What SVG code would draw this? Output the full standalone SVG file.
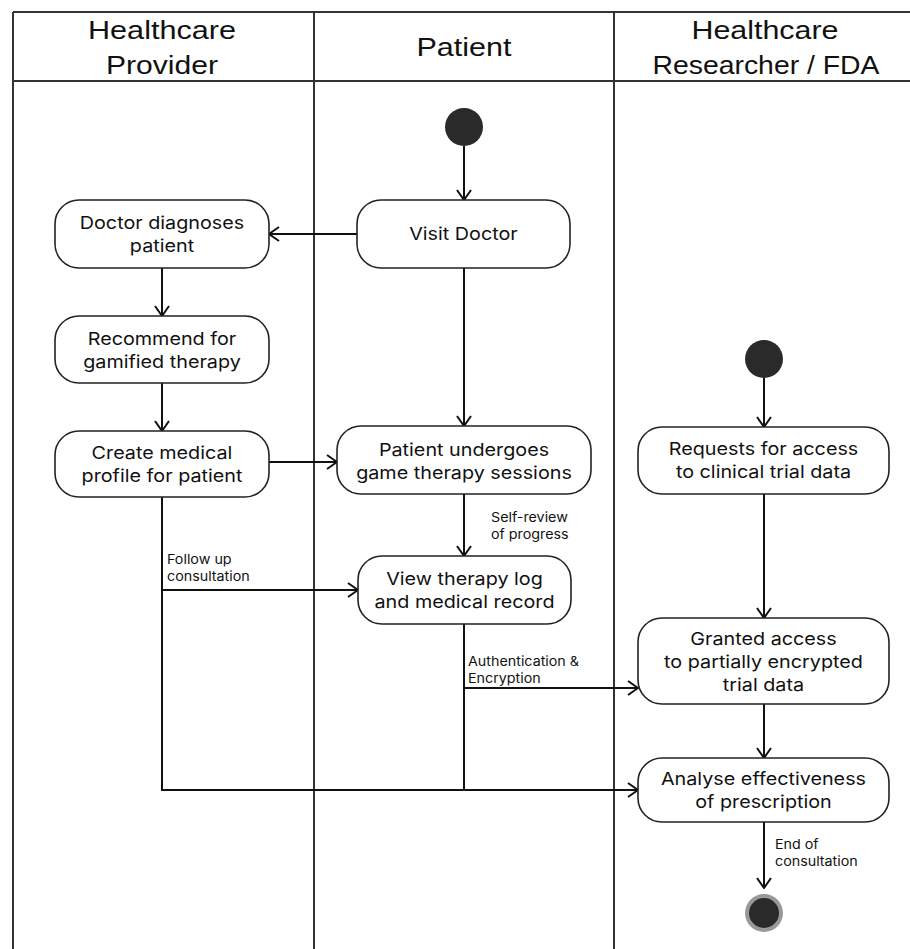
<svg xmlns="http://www.w3.org/2000/svg" width="910" height="949" viewBox="0 0 910 949">
<defs>
<style>
.lane{stroke:#333;stroke-width:2;fill:none}
.hdr{font-family:"Liberation Sans",Arial,sans-serif;font-size:26px;fill:#111;text-anchor:middle}
.node rect{fill:#fff;stroke:#222;stroke-width:1.6}
.node text{font-family:Inter,"Noto Sans",sans-serif;font-size:17.5px;fill:#111;text-anchor:middle;transform-box:fill-box;transform-origin:center;transform:scaleX(1.13)}
.edge{stroke:#111;stroke-width:2;fill:none}
.lbl{font-family:Inter,"Noto Sans",sans-serif;font-size:13px;fill:#111;transform-box:fill-box;transform-origin:left center;transform:scaleX(1.1)}
</style>
<marker id="arr" viewBox="0 0 12 16" refX="11" refY="8" markerWidth="12" markerHeight="16" markerUnits="userSpaceOnUse" orient="auto">
<path d="M1,1 L11,8 L1,15" fill="none" stroke="#111" stroke-width="2"/>
</marker>
</defs>
<rect width="910" height="949" fill="#fff"/>
<g id="lanes">
<line class="lane" x1="13" y1="12" x2="910" y2="12"/>
<line class="lane" x1="13" y1="81" x2="910" y2="81"/>
<line class="lane" x1="13" y1="12" x2="13" y2="949"/>
<line class="lane" x1="314" y1="12" x2="314" y2="949"/>
<line class="lane" x1="614" y1="12" x2="614" y2="949"/>
<text class="hdr" x="162" y="39" textLength="148" lengthAdjust="spacingAndGlyphs">Healthcare</text>
<text class="hdr" x="162" y="74" textLength="112" lengthAdjust="spacingAndGlyphs">Provider</text>
<text class="hdr" x="464" y="56" textLength="95" lengthAdjust="spacingAndGlyphs">Patient</text>
<text class="hdr" x="765" y="39" textLength="147" lengthAdjust="spacingAndGlyphs">Healthcare</text>
<text class="hdr" x="766" y="74" textLength="227" lengthAdjust="spacingAndGlyphs">Researcher / FDA</text>
</g>
<g id="connectors">
<line class="edge" x1="464" y1="146" x2="464" y2="200" marker-end="url(#arr)"/>
<line class="edge" x1="357" y1="234" x2="269" y2="234" marker-end="url(#arr)"/>
<line class="edge" x1="464" y1="268" x2="464" y2="426" marker-end="url(#arr)"/>
<line class="edge" x1="162" y1="268" x2="162" y2="316" marker-end="url(#arr)"/>
<line class="edge" x1="162" y1="383" x2="162" y2="431" marker-end="url(#arr)"/>
<line class="edge" x1="269" y1="462" x2="337" y2="462" marker-end="url(#arr)"/>
<line class="edge" x1="464" y1="494" x2="464" y2="556" marker-end="url(#arr)"/>
<polyline class="edge" points="162,497 162,790 638,790" marker-end="url(#arr)"/>
<line class="edge" x1="162" y1="590" x2="358" y2="590" marker-end="url(#arr)"/>
<line class="edge" x1="464" y1="624" x2="464" y2="790"/>
<line class="edge" x1="464" y1="688" x2="638" y2="688" marker-end="url(#arr)"/>
<line class="edge" x1="764" y1="378" x2="764" y2="427" marker-end="url(#arr)"/>
<line class="edge" x1="764" y1="494" x2="764" y2="618" marker-end="url(#arr)"/>
<line class="edge" x1="764" y1="704" x2="764" y2="758" marker-end="url(#arr)"/>
<line class="edge" x1="764" y1="822" x2="764" y2="888" marker-end="url(#arr)"/>
<text class="lbl" x="491" y="522">Self-review</text>
<text class="lbl" x="491" y="539">of progress</text>
<text class="lbl" x="167" y="564">Follow up</text>
<text class="lbl" x="167" y="581">consultation</text>
<text class="lbl" x="468" y="666">Authentication &amp;</text>
<text class="lbl" x="468" y="683">Encryption</text>
<text class="lbl" x="775" y="849">End of</text>
<text class="lbl" x="775" y="866">consultation</text>
</g>
<g id="start1"><circle cx="464" cy="127" r="19" fill="#2a2a2a"/></g>
<g id="start2"><circle cx="764" cy="359" r="19" fill="#2a2a2a"/></g>
<g id="end"><circle cx="764" cy="913" r="19" fill="#999"/><circle cx="764" cy="913" r="15" fill="#2a2a2a"/></g>
<g id="visit" class="node"><rect x="357" y="200" width="213" height="68" rx="24"/><text x="463.5" y="240">Visit Doctor</text></g>
<g id="diagnose" class="node"><rect x="55" y="200" width="214" height="68" rx="24"/><text x="162" y="229">Doctor diagnoses</text><text x="162" y="252">patient</text></g>
<g id="recommend" class="node"><rect x="55" y="316" width="214" height="67" rx="24"/><text x="162" y="345">Recommend for</text><text x="162" y="368">gamified therapy</text></g>
<g id="create" class="node"><rect x="55" y="431" width="214" height="66" rx="24"/><text x="162" y="459">Create medical</text><text x="162" y="482">profile for patient</text></g>
<g id="undergo" class="node"><rect x="337" y="426" width="254" height="68" rx="24"/><text x="464" y="456">Patient undergoes</text><text x="464" y="479">game therapy sessions</text></g>
<g id="view" class="node"><rect x="358" y="556" width="213" height="68" rx="24"/><text x="464.5" y="585">View therapy log</text><text x="464.5" y="608">and medical record</text></g>
<g id="request" class="node"><rect x="638" y="427" width="251" height="67" rx="24"/><text x="763.5" y="455">Requests for access</text><text x="763.5" y="478">to clinical trial data</text></g>
<g id="granted" class="node"><rect x="638" y="618" width="251" height="86" rx="24"/><text x="763.5" y="645">Granted access</text><text x="763.5" y="668">to partially encrypted</text><text x="763.5" y="691">trial data</text></g>
<g id="analyse" class="node"><rect x="638" y="758" width="251" height="64" rx="24"/><text x="763.5" y="785">Analyse effectiveness</text><text x="763.5" y="808">of prescription</text></g>
</svg>
